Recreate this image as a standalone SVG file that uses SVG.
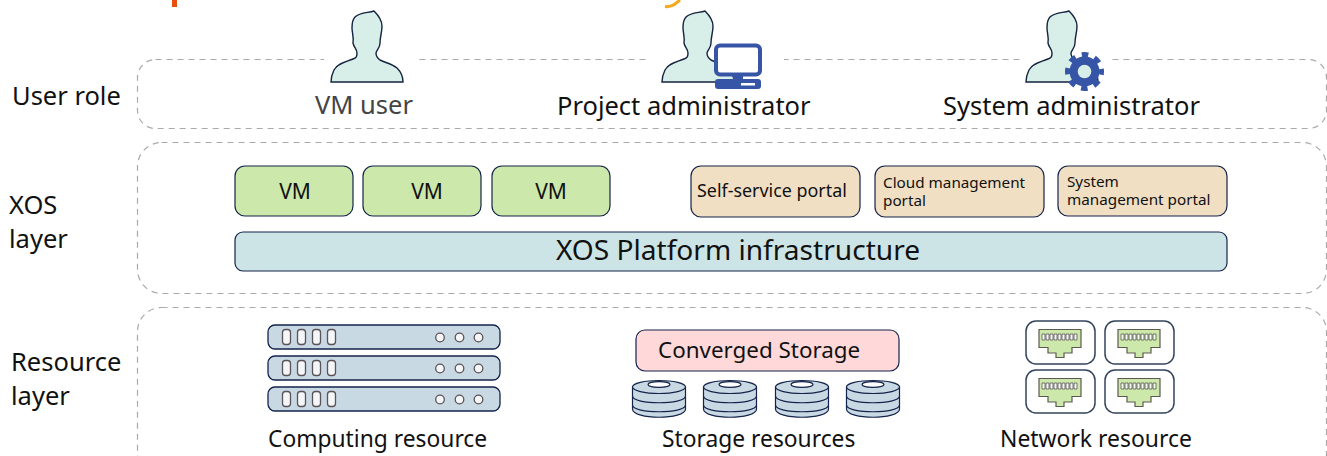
<svg xmlns="http://www.w3.org/2000/svg" width="1327" height="456" viewBox="0 0 1327 456">
<style>
text{font-family:"Noto Sans","Open Sans","DejaVu Sans",sans-serif;fill:#111}
.lane{fill:#fff;stroke:#aaa;stroke-width:1.2;stroke-dasharray:6 5}
.box{stroke:#14234a;stroke-width:1.2}
.vm{fill:#cce8aa}.portal{fill:#f0dfc3}.infra{fill:#cde4e6}.conv{fill:#ffd9d9}
.lab{font-size:25.500px}.sm{font-size:15.250px}
.srv{fill:#c9d9e4;stroke:#14234a;stroke-width:1.3}
.slot{fill:#f4f6f7;stroke:#5c5358;stroke-width:1.3}
.person{fill:#d8eee8;stroke:#14233f;stroke-width:1.4}
.disk{fill:#c9d9e4;stroke:#14234a;stroke-width:1.2}
.port{fill:#fff;stroke:#33445c;stroke-width:1.5}
.jack{fill:#cce8aa;stroke:#5c5a50;stroke-width:1.2}
.pin{fill:#f4f6f7;stroke:#5c5a50;stroke-width:.8}
</style>
<defs>
<path id="p" d="M374 11C368 13 360 12 355 17C352 20 352 24 352 28C352 33 354 37 353 43C354 48 357 49 357 53C357 57 356 58 353 59C346 62 338 63 334 70C332 74 331 78 331 82H403C403 76 401 72 397 68C392 64 386 63 380 60C377 58 376 56 376 53C377 49 380 48 380 43C380 37 382 32 382 26C382 20 378 15 374 11Z"/>
<g id="srv"><rect class="srv" x="268" y="0" width="232" height="24" rx="7"/>
<rect class="slot" x="282.500" y="4.500" width="8" height="15" rx="3"/><rect class="slot" x="297.500" y="4.500" width="8" height="15" rx="3"/><rect class="slot" x="312.500" y="4.500" width="8" height="15" rx="3"/><rect class="slot" x="327.500" y="4.500" width="8" height="15" rx="3"/>
<circle class="slot" cx="440" cy="12.500" r="4.300"/><circle class="slot" cx="459.500" cy="12.500" r="4.300"/><circle class="slot" cx="478.500" cy="12.500" r="4.300"/></g>
<g id="disk"><path class="disk" d="M632.500 387V409C632.500 420 685.500 420 685.500 409V387Z"/><path class="disk" fill="none" d="M632.500 396C632.500 405 685.500 405 685.500 396M632.500 405C632.500 414 685.500 414 685.500 405"/><ellipse cx="659" cy="387" rx="26.500" ry="6.500" class="disk"/><ellipse cx="659" cy="384.500" rx="11" ry="2.800" fill="#fff" stroke="#14234a" stroke-width="1.200"/></g>
<g id="port"><rect class="port" x="1026" y="321" width="69" height="43" rx="10"/>
<path class="jack" d="M1039 329.500H1081V347.500H1072V353H1064V357.500H1056V353H1048V347.500H1039Z"/>
<path class="pin" d="M1042 334h3v6h-3zM1046 334h3v6h-3zM1050 334h3v6h-3zM1054 334h3v6h-3zM1058 334h3v6h-3zM1062 334h3v6h-3zM1066 334h3v6h-3zM1070 334h3v6h-3zM1074 334h3v6h-3z"/></g>
</defs>
<g id="title-fragment"><rect x="172" y="0" width="5" height="7" fill="#e8500f"/><path d="M680 0L675 4C672 6.500 669 7 665 6.500" fill="none" stroke="#f5a81c" stroke-width="3"/></g>

<g id="user-role"><rect class="lane" x="137.500" y="59.500" width="1189" height="69" rx="18"/>
<rect x="324" y="50" width="91" height="20" fill="#fff"/><rect x="648" y="50" width="136" height="20" fill="#fff"/><rect x="1022" y="50" width="90" height="20" fill="#fff"/>
<text class="lab" x="12" y="105">User role</text></g>
<g id="vm-user"><use href="#p" class="person"/><text class="lab" x="315" y="114" style="fill:#444">VM user</text></g>
<g id="project-admin"><use href="#p" class="person" transform="translate(331 0)"/>
<rect x="716" y="45.500" width="44" height="29" rx="4" fill="#fff" stroke="#3655a6" stroke-width="4"/><rect x="733" y="75" width="10" height="6" fill="#3655a6"/><rect x="715" y="79" width="46" height="10" rx="3" fill="#3655a6"/><rect x="741" y="83" width="14" height="2.500" fill="#fff"/>
<text class="lab" x="557" y="115">Project administrator</text></g>
<g id="system-admin"><use href="#p" class="person" transform="translate(695 0)"/>
<circle cx="1084.500" cy="71.500" r="15" fill="#3655a6"/><circle cx="1084.500" cy="71.500" r="16.500" fill="none" stroke="#3655a6" stroke-width="6" stroke-dasharray="6.480 6.480" stroke-dashoffset="3.240"/>
<circle cx="1084.500" cy="71.500" r="6.800" fill="#d8eee8"/>
<text class="lab" x="943" y="115">System administrator</text></g>

<g id="xos-layer"><rect class="lane" x="137.500" y="142.500" width="1189" height="151" rx="24"/>
<text class="lab" x="9" y="214">XOS</text><text class="lab" x="9" y="248">layer</text></g>
<g id="vm1"><rect class="box vm" x="235" y="166" width="118" height="50" rx="10"/><text x="295" y="199" font-size="21" text-anchor="middle">VM</text></g>
<g id="vm2"><rect class="box vm" x="363" y="166" width="118" height="50" rx="10"/><text x="427" y="199" font-size="21" text-anchor="middle">VM</text></g>
<g id="vm3"><rect class="box vm" x="492" y="166" width="118" height="50" rx="10"/><text x="551" y="199" font-size="21" text-anchor="middle">VM</text></g>
<g id="self-service"><rect class="box portal" x="691" y="166" width="169" height="51" rx="10"/><text x="697" y="197" font-size="17.900">Self-service portal</text></g>
<g id="cloud-mgmt"><rect class="box portal" x="875" y="166" width="169" height="51" rx="10"/><text class="sm" x="883" y="188">Cloud management</text><text class="sm" x="883" y="206">portal</text></g>
<g id="system-mgmt"><rect class="box portal" x="1058" y="166" width="169" height="50" rx="10"/><text class="sm" x="1067" y="187">System</text><text class="sm" x="1067" y="205">management portal</text></g>
<g id="platform"><rect class="box infra" x="235" y="232" width="992" height="39" rx="8"/><text x="738" y="260" font-size="28.100" text-anchor="middle">XOS Platform infrastructure</text></g>

<g id="resource-layer"><rect class="lane" x="137.500" y="307.500" width="1189" height="170" rx="24"/>
<text class="lab" x="11" y="371">Resource</text><text class="lab" x="11" y="405">layer</text></g>
<g id="computing"><use href="#srv" y="325"/><use href="#srv" y="356"/><use href="#srv" y="387"/><text x="268" y="447" font-size="22.800">Computing resource</text></g>
<g id="converged"><rect class="box conv" x="636" y="330" width="263" height="41" rx="9"/><text x="658" y="358" font-size="22.400">Converged Storage</text></g>
<g id="storage"><use href="#disk"/><use href="#disk" x="71"/><use href="#disk" x="143"/><use href="#disk" x="214"/><text x="662" y="447" font-size="22.800">Storage resources</text></g>
<g id="network"><use href="#port"/><use href="#port" x="79"/><use href="#port" y="49"/><use href="#port" x="79" y="49"/><text x="1000" y="447" font-size="22.900">Network resource</text></g>
</svg>
